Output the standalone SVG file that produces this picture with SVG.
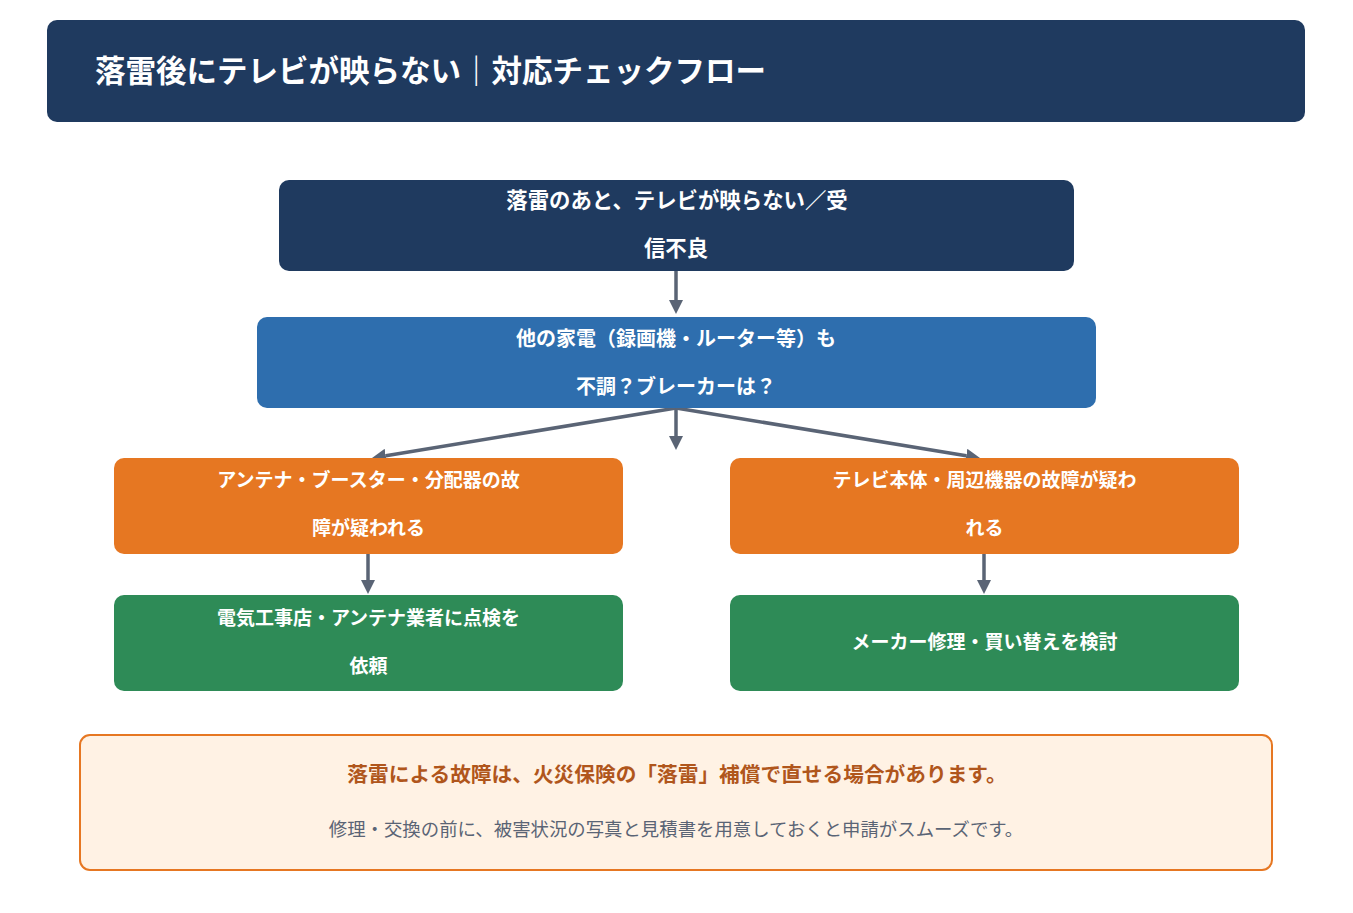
<svg xmlns="http://www.w3.org/2000/svg" width="1353" height="913" viewBox="0 0 1353 913">
<defs>
<style>
.t{font-family:"Noto Sans CJK JP","Noto Sans CJK SC",sans-serif;text-anchor:middle;}
.w{fill:#ffffff;font-weight:700;}
.c{stroke:#5a6475;stroke-width:3.5;fill:none;marker-end:url(#ah);}
</style>
<marker id="ah" viewBox="0 0 10 10" refX="0" refY="5" markerWidth="14" markerHeight="14" markerUnits="userSpaceOnUse" orient="auto">
<path d="M0,0 L10,5 L0,10 z" fill="#5a6475"/>
</marker>
</defs>
<rect width="1353" height="913" fill="#ffffff"/>
<g id="header">
<rect x="47" y="20" width="1258" height="102" rx="10" fill="#1f3a5f"/>
<text x="95" y="81.5" class="t w" style="text-anchor:start" font-size="30.5">落雷後にテレビが映らない｜対応チェックフロー</text>
</g>
<g id="connectors">
<line x1="676" y1="271" x2="676" y2="300" class="c"/>
<line x1="676" y1="408" x2="676" y2="436" class="c"/>
<line x1="676" y1="408" x2="385.8" y2="455.7" class="c"/>
<line x1="676" y1="408" x2="966.2" y2="455.7" class="c"/>
<line x1="368" y1="554" x2="368" y2="580" class="c"/>
<line x1="984" y1="554" x2="984" y2="580" class="c"/>
</g>
<g id="n1">
<rect x="279" y="180" width="795" height="91" rx="10" fill="#1f3a5f"/>
<text x="677" y="208" class="t w" font-size="21.4">落雷のあと、テレビが映らない／受</text>
<text x="676" y="255.5" class="t w" font-size="21.4">信不良</text>
</g>
<g id="n2">
<rect x="257" y="317" width="839" height="91" rx="10" fill="#2e6eae"/>
<text x="676" y="345.5" class="t w" font-size="20">他の家電（録画機・ルーター等）も</text>
<text x="676" y="393.5" class="t w" font-size="20">不調？ブレーカーは？</text>
</g>
<g id="n3">
<rect x="114" y="458" width="509" height="96" rx="10" fill="#e67722"/>
<text x="368.5" y="487" class="t w" font-size="19">アンテナ・ブースター・分配器の故</text>
<text x="368.5" y="535" class="t w" font-size="19">障が疑われる</text>
</g>
<g id="n4">
<rect x="730" y="458" width="509" height="96" rx="10" fill="#e67722"/>
<text x="984.5" y="487" class="t w" font-size="19">テレビ本体・周辺機器の故障が疑わ</text>
<text x="984.5" y="535" class="t w" font-size="19">れる</text>
</g>
<g id="n5">
<rect x="114" y="595" width="509" height="96" rx="10" fill="#2e8b57"/>
<text x="368.5" y="625" class="t w" font-size="19">電気工事店・アンテナ業者に点検を</text>
<text x="368.5" y="673" class="t w" font-size="19">依頼</text>
</g>
<g id="n6">
<rect x="730" y="595" width="509" height="96" rx="10" fill="#2e8b57"/>
<text x="984.5" y="649" class="t w" font-size="19">メーカー修理・買い替えを検討</text>
</g>
<g id="note">
<rect x="80" y="735" width="1192" height="135" rx="10" fill="#fff2e4" stroke="#e67722" stroke-width="2"/>
<text x="677" y="781.8" class="t" font-size="20.7" font-weight="700" fill="#b0561c">落雷による故障は、火災保険の「落雷」補償で直せる場合があります。</text>
<text x="676" y="835.8" class="t" font-size="18.4" fill="#5a6475">修理・交換の前に、被害状況の写真と見積書を用意しておくと申請がスムーズです。</text>
</g>
</svg>
